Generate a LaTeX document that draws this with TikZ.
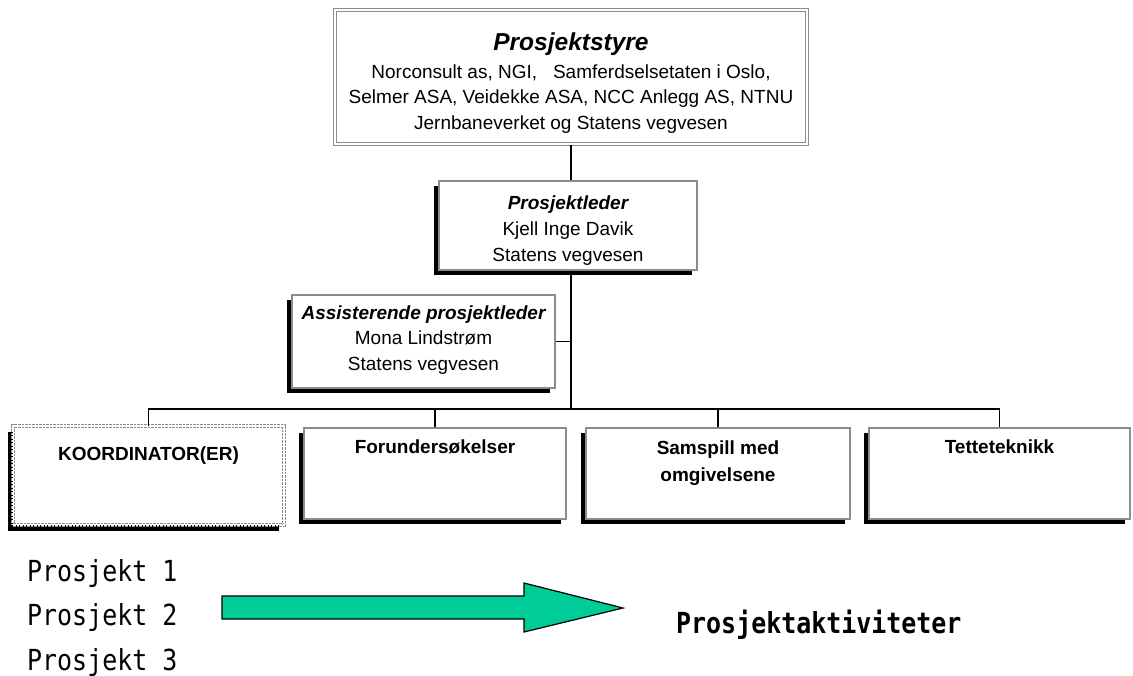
\documentclass[tikz,border=0pt]{standalone}
\usepackage{fontspec}
\setmainfont{Liberation Sans}
\newfontfamily\monofont[FakeStretch=0.86]{DejaVu Sans Mono}
\usetikzlibrary{shadows}
\definecolor{boxgray}{RGB}{140,140,140}
\definecolor{arrowgreen}{RGB}{0,204,153}
\begin{document}
\begin{tikzpicture}[x=1pt,y=-1pt,
  orgbox/.style={rectangle, draw=boxgray, line width=1.2pt, fill=white, inner sep=0pt,
    general shadow={fill=black, shadow xshift=-5pt, shadow yshift=-5pt}},
  topbox/.style={rectangle, draw=boxgray, line width=1.6pt, double=white, double distance=1.4pt,
    fill=white, inner sep=0pt},
  coordbox/.style={rectangle, draw=boxgray, line width=1pt, double=white, double distance=1.2pt,
    dash pattern=on 2.5pt off 1pt, fill=white, inner sep=0pt,
    general shadow={fill=black, shadow xshift=-5pt, shadow yshift=-6pt}},
  boxtext/.style={font=\fontsize{19}{25.5}\selectfont, align=center, inner sep=0pt},
  unittext/.style={font=\fontsize{19}{27}\selectfont\bfseries, align=center, inner sep=0pt, anchor=north},
  projtext/.style={font=\monofont\fontsize{29}{32}\selectfont, inner sep=0pt, anchor=base west},
  conn/.style={draw=black, line width=1.1pt}
]
\useasboundingbox (0,0) rectangle (1133,675);

% boxes
\node[topbox, minimum width=472pt, minimum height=134pt] (ps) at (571,77) {};
\node[orgbox, minimum width=258pt, minimum height=89pt] (pl) at (568,225.5) {};
\node[orgbox, minimum width=263pt, minimum height=93pt] (ap) at (423.5,341.5) {};
\node[coordbox, minimum width=271pt, minimum height=99pt] (k) at (148.5,475.5) {};
\node[orgbox, minimum width=262pt, minimum height=91pt] (f) at (435,473.5) {};
\node[orgbox, minimum width=264pt, minimum height=91pt] (s) at (718,473.5) {};
\node[orgbox, minimum width=261pt, minimum height=91pt] (t) at (999.5,473.5) {};

% box texts
\node[boxtext] (pst) at (571,83)
  {{\fontsize{24.5}{28}\selectfont\bfseries\itshape Prosjektstyre}\\[2pt]
   Norconsult as, NGI,\ \ \ Samferdselsetaten i Oslo,\\
   Selmer ASA, Veidekke ASA, NCC Anlegg AS, NTNU\\
   Jernbaneverket og Statens vegvesen};
\node[boxtext, font=\fontsize{19}{26}\selectfont] (plt) at (568,230.5)
  {{\bfseries\itshape Prosjektleder}\\
   Kjell Inge Davik\\
   Statens vegvesen};
\node[boxtext] (apt) at (423.5,340)
  {{\bfseries\itshape Assisterende prosjektleder}\\
   Mona Lindstrøm\\
   Statens vegvesen};

\node[unittext] (kt) at ([yshift=-21pt]k.north) {KOORDINATOR(ER)};
\node[unittext] (ft) at ([yshift=-12pt]f.north) {Forundersøkelser};
\node[unittext] (st) at ([yshift=-13pt]s.north) {Samspill med\\omgivelsene};
\node[unittext] (tt) at ([yshift=-12pt]t.north) {Tetteteknikk};

% connectors
\coordinate (bar) at (571,409);
\draw[conn] (ps.south) -- (ps.south |- pl.north);
\draw[conn] (ps.south |- pl.south) -- (bar);
\draw[conn] (ap.east) -- (ap.east -| bar);
\draw[conn] (k.north) -- (k.north |- bar) -- (t.north |- bar) -- (t.north);
\draw[conn] (f.north) -- (f.north |- bar);
\draw[conn] (s.north) -- (s.north |- bar);

% projects
\node[projtext] (p1) at (27,581) {Prosjekt 1};
\node[projtext] (p2) at (27,625) {Prosjekt 2};
\node[projtext] (p3) at (27,670) {Prosjekt 3};
\node[projtext, font=\monofont\fontsize{29}{32}\selectfont\bfseries] (pa) at (676,633) {Prosjektaktiviteter};

% big arrow
\draw[fill=arrowgreen, draw=black, line width=1.2pt, line join=miter]
  (222,596) -- (524,596) -- (524,583) -- (623,608) -- (524,632) -- (524,619) -- (222,619) -- cycle;
\end{tikzpicture}
\end{document}
